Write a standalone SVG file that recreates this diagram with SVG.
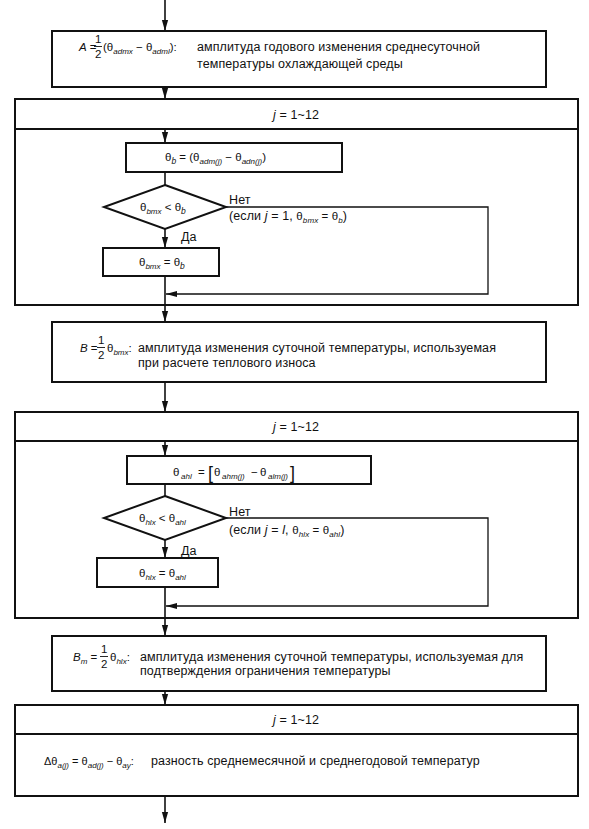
<svg xmlns="http://www.w3.org/2000/svg" width="589" height="829" viewBox="0 0 589 829">
<defs>
<marker id="ah" markerUnits="userSpaceOnUse" markerWidth="12" markerHeight="8" refX="11" refY="4" orient="auto"><path d="M0,0.9 L11,4 L0,7.1 z" fill="#111"/></marker>
<style>
.box{fill:#fff;stroke:#111;stroke-width:2}
.loop{fill:#fff;stroke:#111;stroke-width:2}
.hl{stroke:#111;stroke-width:2}
.c{fill:none;stroke:#111;stroke-width:1.6}
.ca{fill:none;stroke:#111;stroke-width:1.6;marker-end:url(#ah)}
.cr{fill:none;stroke:#111;stroke-width:1.3;marker-end:url(#ah)}
.t{font-family:"Liberation Sans",Arial,sans-serif;font-size:12.5px;fill:#111;letter-spacing:0.1px}
.m{font-family:"Liberation Sans",Arial,sans-serif;font-size:11.5px;fill:#111}
.s{font-size:8px;font-style:italic}
.i{font-style:italic}
.bar{stroke:#111;stroke-width:0.9}
.br{font-family:"Liberation Sans",Arial,sans-serif;font-size:18px;fill:#111}
</style>
</defs>
<rect width="589" height="829" fill="#fff"/>

<g id="loop1">
<rect class="loop" x="15" y="99" width="563" height="206"/>
<line class="hl" x1="15" y1="129" x2="578" y2="129"/>
<text class="t" x="296" y="119" text-anchor="middle"><tspan class="i">j</tspan> = 1~12</text>
</g>
<g id="loop2">
<rect class="loop" x="15" y="412" width="563" height="206"/>
<line class="hl" x1="15" y1="441" x2="578" y2="441"/>
<text class="t" x="296" y="431" text-anchor="middle"><tspan class="i">j</tspan> = 1~12</text>
</g>
<g id="loop3">
<rect class="loop" x="15" y="705" width="563" height="91"/>
<line class="hl" x1="15" y1="734" x2="578" y2="734"/>
<text class="t" x="296" y="724" text-anchor="middle"><tspan class="i">j</tspan> = 1~12</text>
<text class="m" x="44" y="765" style="font-size:11px">Δθ<tspan class="s" dy="2.5">a(j)</tspan><tspan dy="-2.5"> = θ</tspan><tspan class="s" dy="2.5">ad(j)</tspan><tspan dy="-2.5"> − θ</tspan><tspan class="s" dy="2.5">ay</tspan><tspan dy="-2.5">:</tspan></text>
<text class="t" x="151" y="765">разность среднемесячной и среднегодовой температур</text>
</g>

<g id="node-a">
<rect class="box" x="52" y="31" width="494" height="56"/>
<text class="m" x="79" y="51"><tspan class="i">A</tspan> =</text>
<text class="m" x="95" y="43">1</text>
<line class="bar" x1="94" y1="46.5" x2="102" y2="46.5"/>
<text class="m" x="95" y="58">2</text>
<text class="m" x="103" y="51">(θ<tspan class="s" dy="2.5">admx</tspan><tspan dy="-2.5"> − θ</tspan><tspan class="s" dy="2.5">adml</tspan><tspan dy="-2.5">):</tspan></text>
<text class="t" x="197" y="51">амплитуда годового изменения среднесуточной</text>
<text class="t" x="197" y="68">температуры охлаждающей среды</text>
</g>

<g id="node-thetab">
<rect class="box" x="126" y="143" width="216" height="29"/>
<text class="m" x="165" y="161">θ<tspan class="s" dy="2.5" style="font-size:8.5px">b</tspan><tspan dy="-2.5"> = (θ</tspan><tspan class="s" dy="2.5">adm(j)</tspan><tspan dy="-2.5"> − θ</tspan><tspan class="s" dy="2.5">adn(j)</tspan><tspan dy="-2.5">)</tspan></text>
</g>
<g id="dec1">
<polygon class="box" points="165,185 226,207 165,229 104,207"/>
<text class="m" x="140" y="211">θ<tspan class="s" dy="2.5">bmx</tspan><tspan dy="-2.5"> &lt; θ</tspan><tspan class="s" dy="2.5" style="font-size:8.5px">b</tspan></text>
<text class="t" x="229" y="204">Нет</text>
<text class="t" x="229" y="220">(если <tspan class="i">j</tspan> = 1, <tspan class="m">θ</tspan><tspan class="s" dy="2.5">bmx</tspan><tspan class="m" dy="-2.5"> = θ</tspan><tspan class="s" dy="2.5">b</tspan><tspan dy="-2.5">)</tspan></text>
<text class="t" x="181" y="241">Да</text>
</g>
<g id="node-bmx">
<rect class="box" x="103" y="248" width="116" height="28"/>
<text class="m" x="139" y="266">θ<tspan class="s" dy="2.5">bmx</tspan><tspan dy="-2.5"> = θ</tspan><tspan class="s" dy="2.5" style="font-size:8.5px">b</tspan></text>
</g>

<g id="node-b">
<rect class="box" x="52" y="322" width="494" height="60"/>
<text class="m" x="80" y="352"><tspan class="i">B</tspan> =</text>
<text class="m" x="98" y="344">1</text>
<line class="bar" x1="97" y1="347.5" x2="105" y2="347.5"/>
<text class="m" x="98" y="359">2</text>
<text class="m" x="107" y="352">θ<tspan class="s" dy="2.5">bmx</tspan><tspan dy="-2.5">:</tspan></text>
<text class="t" x="138" y="352">амплитуда изменения суточной температуры, используемая</text>
<text class="t" x="138" y="367">при расчете теплового износа</text>
</g>

<g id="node-ahl">
<rect class="box" x="127" y="456" width="244" height="28"/>
<text class="m" y="476"><tspan x="173">θ</tspan><tspan class="s" x="181" dy="2.5">ahl</tspan><tspan x="198" dy="-2.5">=</tspan><tspan x="214">θ</tspan><tspan class="s" x="222" dy="2.5">ahm(j)</tspan><tspan x="251" dy="-2.5">−</tspan><tspan x="260">θ</tspan><tspan class="s" x="268" dy="2.5">alm(j)</tspan></text>
<text class="br" x="208" y="479">[</text>
<text class="br" x="290" y="479">]</text>
</g>
<g id="dec2">
<polygon class="box" points="165,496 226,518 165,540 104,518"/>
<text class="m" x="139" y="522">θ<tspan class="s" dy="2.5">hlx</tspan><tspan dy="-2.5"> &lt; θ</tspan><tspan class="s" dy="2.5">ahl</tspan></text>
<text class="t" x="229" y="516">Нет</text>
<text class="t" x="229" y="534">(если <tspan class="i">j</tspan> = <tspan class="i">l</tspan>, <tspan class="m">θ</tspan><tspan class="s" dy="2.5">hlx</tspan><tspan class="m" dy="-2.5"> = θ</tspan><tspan class="s" dy="2.5">ahl</tspan><tspan dy="-2.5">)</tspan></text>
<text class="t" x="181" y="555">Да</text>
</g>
<g id="node-hlx">
<rect class="box" x="97" y="558" width="121" height="29"/>
<text class="m" x="139" y="577">θ<tspan class="s" dy="2.5">hlx</tspan><tspan dy="-2.5"> = θ</tspan><tspan class="s" dy="2.5">ahl</tspan></text>
</g>

<g id="node-bm">
<rect class="box" x="52" y="636" width="494" height="55"/>
<text class="m" x="73" y="661"><tspan class="i">B</tspan><tspan class="s" dy="2.5">m</tspan><tspan dy="-2.5"> =</tspan></text>
<text class="m" x="101" y="653">1</text>
<line class="bar" x1="100" y1="656.5" x2="108" y2="656.5"/>
<text class="m" x="101" y="668">2</text>
<text class="m" x="110" y="661">θ<tspan class="s" dy="2.5">hlx</tspan><tspan dy="-2.5">:</tspan></text>
<text class="t" x="140" y="661">амплитуда изменения суточной температуры, используемая для</text>
<text class="t" x="140" y="675">подтверждения ограничения температуры</text>
</g>

<g id="connectors">
<path class="ca" d="M165,0 V31"/>
<path class="ca" d="M165,87 V99"/>
<path class="ca" d="M165,129 V143"/>
<path class="c" d="M165,172 V185"/>
<path class="ca" d="M165,229 V248"/>
<path class="cr" d="M226,207 H488 V294 H166"/>
<path class="ca" d="M165,276 V322"/>
<path class="ca" d="M165,382 V412"/>
<path class="ca" d="M165,441 V456"/>
<path class="c" d="M165,484 V496"/>
<path class="ca" d="M165,540 V558"/>
<path class="cr" d="M226,518 H488 V606 H166"/>
<path class="ca" d="M165,587 V636"/>
<path class="ca" d="M165,691 V705"/>
<path class="ca" d="M165,796 V823"/>
</g>
</svg>
